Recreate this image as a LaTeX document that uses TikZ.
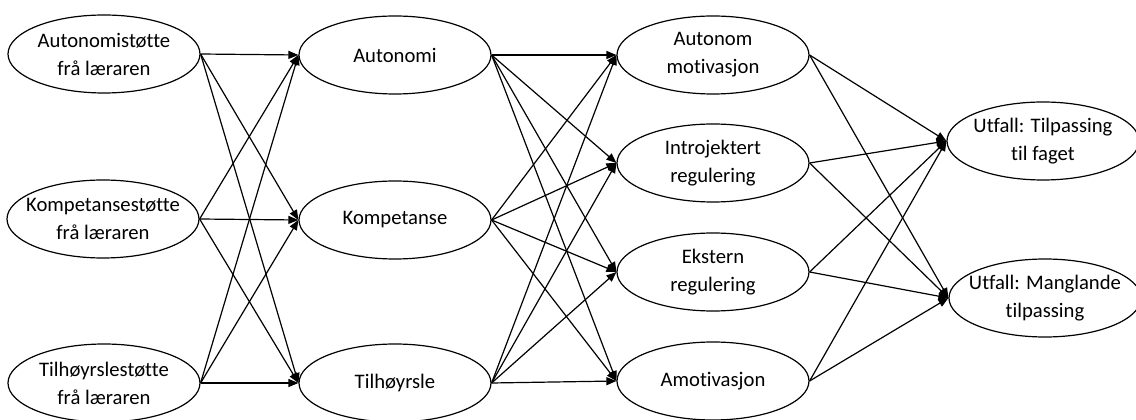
\documentclass[tikz,border=0pt]{standalone}
\usepackage{fontspec}
\setmainfont{Carlito}[Ligatures={NoCommon}]
\usetikzlibrary{shapes.geometric,arrows.meta}
\begin{document}
\begin{tikzpicture}[x=0.75pt,y=-0.75pt,
  ell/.style={draw, ellipse, line width=0.9pt, minimum width=144pt, minimum height=58.5pt, inner sep=0pt},
  txt/.style={inner sep=0pt, align=center, font=\fontsize{15.5}{21}\selectfont},
  arr/.style={line width=0.9pt, -{Triangle[length=7.5pt,width=6pt]}}]
\useasboundingbox (0,0) rectangle (1136,420);
\node[ell] (a1) at (104,54) {};
\node[ell] (k1) at (103,219) {};
\node[ell] (t1) at (104,383) {};
\node[ell] (au) at (395,55) {};
\node[ell] (ko) at (395,220) {};
\node[ell] (ti) at (395,383) {};
\node[ell] (am) at (713,55) {};
\node[ell] (ir) at (713,163) {};
\node[ell] (er) at (713,272) {};
\node[ell] (av) at (713,381) {};
\node[ell] (u1) at (1043,141) {};
\node[ell] (u2) at (1045,298) {};
\node[txt] (a1t) at (a1) {Autonomistøtte\\frå læraren};
\node[txt] (k1t) at (k1) {Kompetansestøtte\\frå læraren};
\node[txt] (t1t) at (t1) {Tilhøyrslestøtte\\frå læraren};
\node[txt] (aut) at (au) {Autonomi};
\node[txt] (kot) at (ko) {Kompetanse};
\node[txt] (tit) at (ti) {Tilhøyrsle};
\node[txt] (amt) at (am) {Autonom\\motivasjon};
\node[txt] (irt) at (ir) {Introjektert\\regulering};
\node[txt] (ert) at (er) {Ekstern\\regulering};
\node[txt] (avt) at (av) {Amotivasjon};
\node[txt] (u1t) at (u1) {Utfall: Tilpassing\\til faget};
\node[txt] (u2t) at (u2) {Utfall: Manglande\\tilpassing};
\foreach \s in {a1,k1,t1}{\foreach \t in {au,ko,ti}{\draw[arr] (\s.east) -- (\t.west);}}
\foreach \s in {au,ko,ti}{\foreach \t in {am,ir,er,av}{\draw[arr] (\s.east) -- (\t.west);}}
\foreach \s in {am,ir,er,av}{\foreach \t in {u1,u2}{\draw[arr] (\s.east) -- (\t.west);}}
\end{tikzpicture}
\end{document}
